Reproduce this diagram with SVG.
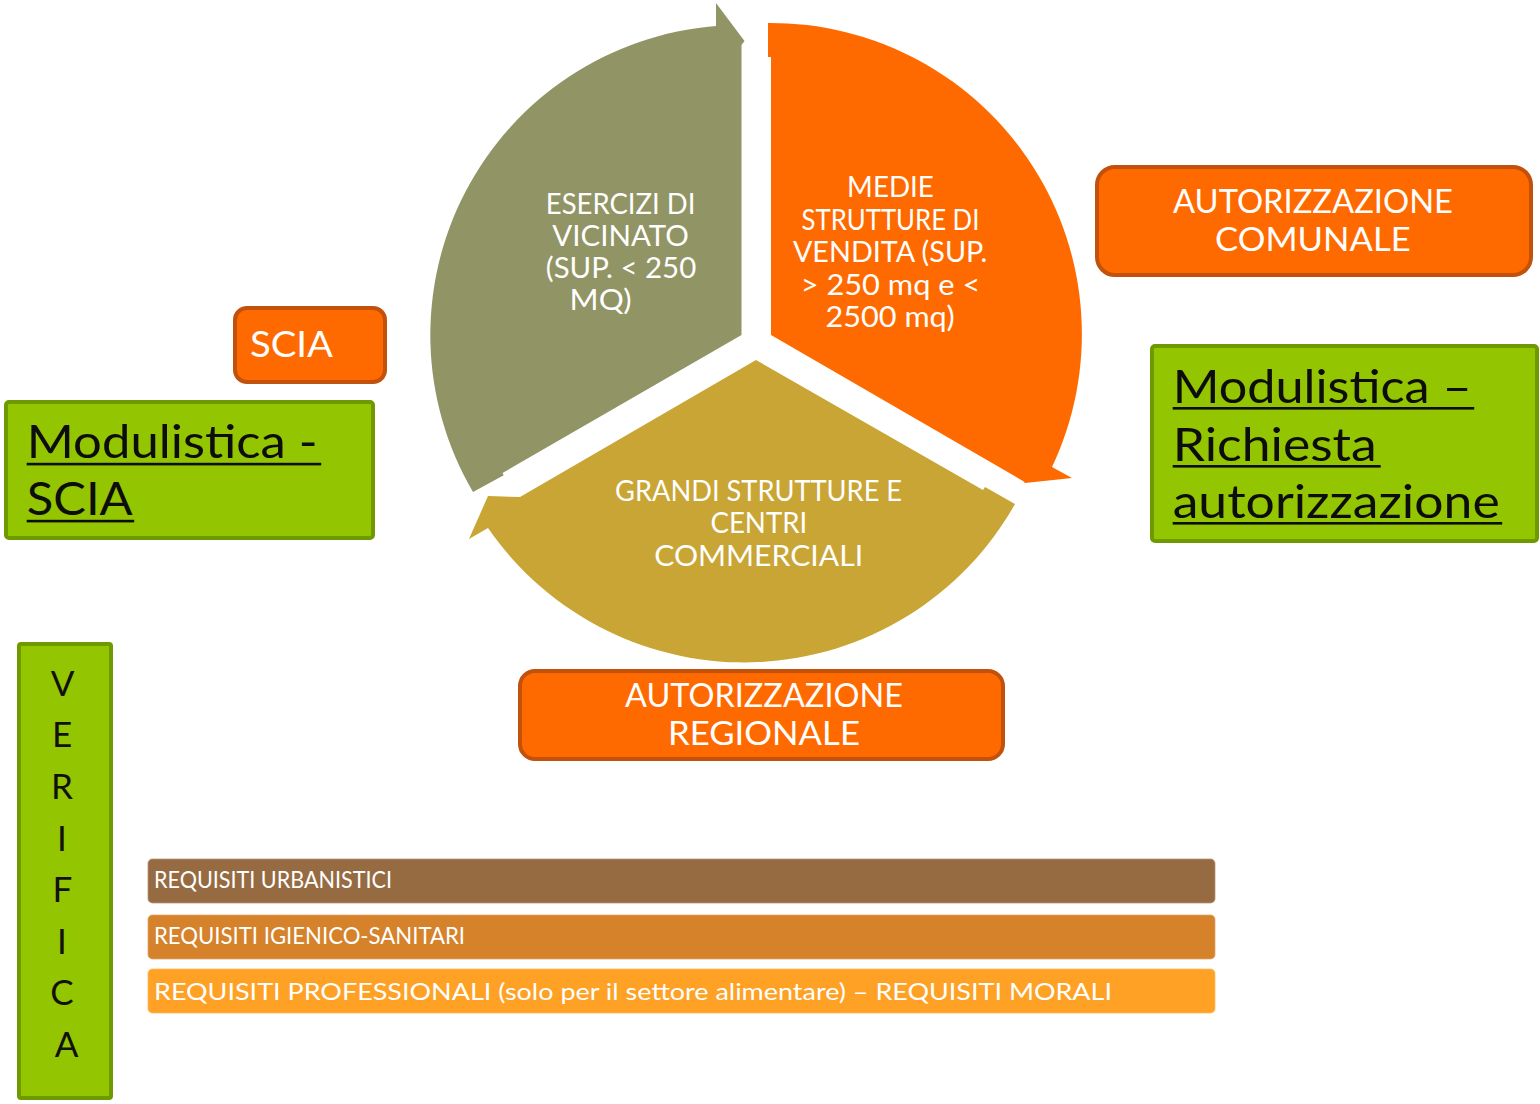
<svg xmlns="http://www.w3.org/2000/svg" width="1540" height="1104" viewBox="0 0 1540 1104">
  <style>
    text { font-family: Lato, "Open Sans", "DejaVu Sans", sans-serif; }
    .seg-txt { fill: #ffffff; font-size: 28px; }
    .box-orange { fill: #FF6A00; stroke: #C2520B; stroke-width: 4; }
    .box-green { fill: #93C500; stroke: #6E9A00; stroke-width: 4; }
    .box-txt { fill: #ffffff; font-size: 32px; }
    .link-txt { fill: #0D0D0D; font-size: 47px; }
    .underline { fill: #0D0D0D; }
    .ver-txt { fill: #111111; font-size: 35px; text-anchor: middle; }
    .bar { stroke: #ffffff; stroke-opacity: 0.45; stroke-width: 1.5; }
    .bar-txt { fill: #ffffff; font-size: 24px; }
  </style>

  <!-- cycle segments -->
  <g id="seg-vicinato">
    <path d="M741.5 335 L741.5 45 L744.5 41 L716 3 L716 26 A310 310 0 0 0 473 492 L503.7 475.2 L502.5 473 Z" fill="#919464"/>
    <text class="seg-txt">
      <tspan x="545.8" y="214" textLength="149.6" lengthAdjust="spacingAndGlyphs">ESERCIZI DI</tspan>
      <tspan x="552.3" y="246" textLength="136.6" lengthAdjust="spacingAndGlyphs">VICINATO</tspan>
      <tspan x="545.8" y="278" textLength="150.4" lengthAdjust="spacingAndGlyphs">(SUP.  &lt; 250</tspan>
      <tspan x="569.6" y="310" textLength="62" lengthAdjust="spacingAndGlyphs">MQ)</tspan>
    </text>
  </g>

  <g id="seg-medie">
    <path d="M771 335 L771 57 L768 57 L768 23 A311 311 0 0 1 1052 467 L1072 478 L1025 483 L1023 481 Z" fill="#FF6A00"/>
    <text class="seg-txt">
      <tspan x="847.1" y="197" textLength="86.8" lengthAdjust="spacingAndGlyphs">MEDIE</tspan>
      <tspan x="801.6" y="230" textLength="177.8" lengthAdjust="spacingAndGlyphs">STRUTTURE  DI</tspan>
      <tspan x="792.9" y="262" textLength="194.3" lengthAdjust="spacingAndGlyphs">VENDITA (SUP.</tspan>
      <tspan x="800.7" y="295" textLength="179.6" lengthAdjust="spacingAndGlyphs">&gt; 250 mq e &lt;</tspan>
      <tspan x="825.5" y="327" textLength="129.2" lengthAdjust="spacingAndGlyphs">2500 mq)</tspan>
    </text>
  </g>

  <g id="seg-grandi">
    <path d="M756 360 L983 490 L985 487 L1015 504 A311 311 0 0 1 488 528 L469 539 L488 496 L520 497 Z" fill="#C9A535"/>
    <text class="seg-txt">
      <tspan x="615.1" y="501" textLength="287" lengthAdjust="spacingAndGlyphs">GRANDI STRUTTURE  E</tspan>
      <tspan x="710.5" y="533" textLength="96.7" lengthAdjust="spacingAndGlyphs">CENTRI</tspan>
      <tspan x="654.2" y="566" textLength="209" lengthAdjust="spacingAndGlyphs">COMMERCIALI</tspan>
    </text>
  </g>

  <!-- procedure labels -->
  <g id="scia">
    <rect class="box-orange" x="235" y="308" width="150" height="74" rx="12"/>
    <text class="box-txt" x="250" y="357" textLength="83" lengthAdjust="spacingAndGlyphs" style="font-size:36px">SCIA</text>
  </g>

  <g id="autorizzazione-comunale">
    <rect class="box-orange" x="1097" y="167" width="434" height="108" rx="18"/>
    <text class="box-txt">
      <tspan x="1173" y="213" textLength="280" lengthAdjust="spacingAndGlyphs">AUTORIZZAZIONE</tspan>
      <tspan x="1215" y="251" textLength="195.7" lengthAdjust="spacingAndGlyphs">COMUNALE</tspan>
    </text>
  </g>

  <g id="autorizzazione-regionale">
    <rect class="box-orange" x="520" y="671" width="483" height="88" rx="15"/>
    <text class="box-txt">
      <tspan x="625" y="707" textLength="278" lengthAdjust="spacingAndGlyphs">AUTORIZZAZIONE</tspan>
      <tspan x="668" y="745" textLength="192" lengthAdjust="spacingAndGlyphs">REGIONALE</tspan>
    </text>
  </g>

  <!-- form links (underlined) -->
  <g id="modulistica-scia">
    <rect class="box-green" x="6" y="402" width="367" height="136" rx="3"/>
    <text class="link-txt">
      <tspan x="26.7" y="458" textLength="291" lengthAdjust="spacingAndGlyphs">Modulistica -</tspan>
      <tspan x="26.7" y="515" textLength="106" lengthAdjust="spacingAndGlyphs">SCIA</tspan>
    </text>
    <rect class="underline" x="26.7" y="462.8" width="294.5" height="2.6"/>
    <rect class="underline" x="26.7" y="519.8" width="107.5" height="2.6"/>
  </g>

  <g id="modulistica-autorizzazione">
    <rect class="box-green" x="1152" y="346" width="385" height="195" rx="3"/>
    <text class="link-txt">
      <tspan x="1172.7" y="403" textLength="299" lengthAdjust="spacingAndGlyphs">Modulistica –</tspan>
      <tspan x="1172.7" y="461" textLength="204" lengthAdjust="spacingAndGlyphs">Richiesta</tspan>
      <tspan x="1172.7" y="518" textLength="327" lengthAdjust="spacingAndGlyphs">autorizzazione</tspan>
    </text>
    <rect class="underline" x="1172.7" y="407" width="301.5" height="2.6"/>
    <rect class="underline" x="1172.7" y="465" width="208" height="2.6"/>
    <rect class="underline" x="1172.7" y="522" width="329.5" height="2.6"/>
  </g>

  <!-- checks -->
  <g id="verifica">
    <rect class="box-green" x="19" y="644" width="92" height="454" rx="2"/>
    <text class="ver-txt">
      <tspan x="66.5" y="696">V</tspan>
      <tspan x="66.5" y="747">E</tspan>
      <tspan x="66.5" y="799">R</tspan>
      <tspan x="66.5" y="851">I</tspan>
      <tspan x="66.5" y="902">F</tspan>
      <tspan x="66.5" y="954">I</tspan>
      <tspan x="66.5" y="1005">C</tspan>
      <tspan x="66.5" y="1057">A</tspan>
    </text>
  </g>

  <g id="req-urbanistici">
    <rect class="bar" x="147.5" y="858.5" width="1068" height="45" rx="5" fill="#966B42"/>
    <text class="bar-txt" x="154" y="888" textLength="238" lengthAdjust="spacingAndGlyphs">REQUISITI URBANISTICI</text>
  </g>

  <g id="req-igienico-sanitari">
    <rect class="bar" x="147.5" y="914.5" width="1068" height="45" rx="5" fill="#D5822B"/>
    <text class="bar-txt" x="154" y="944" textLength="311" lengthAdjust="spacingAndGlyphs">REQUISITI IGIENICO-SANITARI</text>
  </g>

  <g id="req-professionali">
    <rect class="bar" x="147.5" y="968.5" width="1068" height="45" rx="5" fill="#FEA124"/>
    <text class="bar-txt" x="154" y="1000" textLength="958" lengthAdjust="spacingAndGlyphs">REQUISITI PROFESSIONALI (solo per il settore alimentare) – REQUISITI MORALI</text>
  </g>
</svg>
